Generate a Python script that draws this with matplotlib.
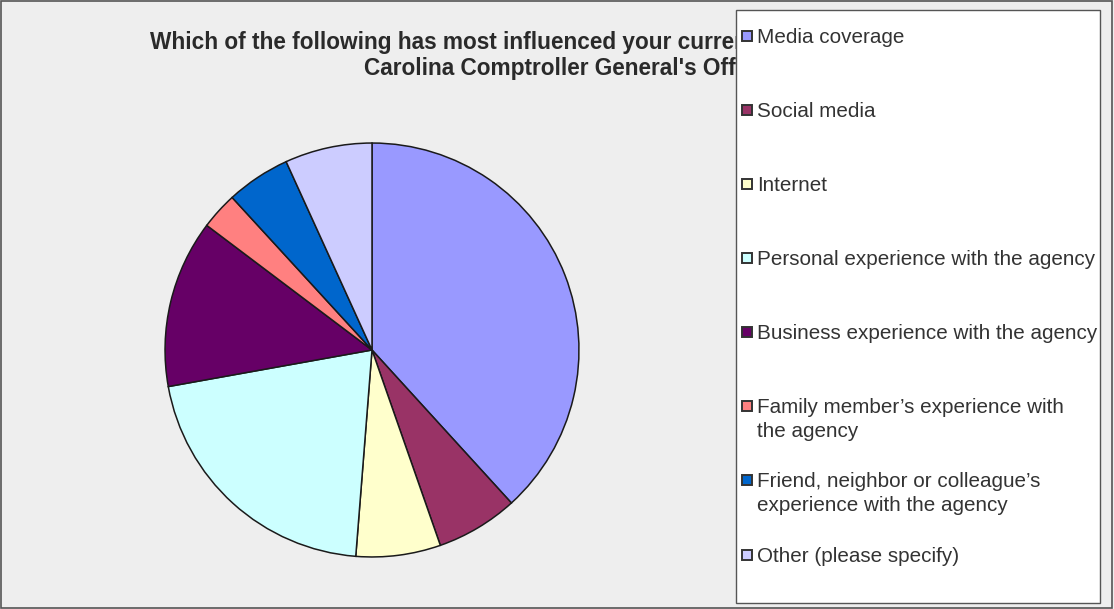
import matplotlib
matplotlib.use("Agg")
import matplotlib.pyplot as plt
from matplotlib.patches import Rectangle

categories = [
    "Media coverage",
    "Social media",
    "Internet",
    "Personal experience with the agency",
    "Business experience with the agency",
    "Family member\u2019s experience with\nthe agency",
    "Friend, neighbor or colleague\u2019s\nexperience with the agency",
    "Other (please specify)",
]
values = [38.2, 6.4, 6.6, 20.9, 13.1, 2.9, 5.0, 6.8]
colors = ["#9999FF", "#993366", "#FFFFCC", "#CCFFFF", "#660066", "#FF8080", "#0066CC", "#CCCCFF"]
title_lines = [
    "Which of the following has most influenced your current opinion of the South",
    "Carolina Comptroller General's Office?",
]

W, H = 1114, 609
fig = plt.figure(figsize=(W / 100, H / 100), dpi=100)
fig.patch.set_facecolor("#EEEEEE")

def fx(px):
    return px / W

def fy(py):
    return 1 - py / H

# figure border
fig.patches.append(Rectangle((0.0005, 0.001), 0.998, 0.997, transform=fig.transFigure,
                             facecolor="none", edgecolor="#555555", lw=1.2, zorder=0))

# title (drawn beneath the legend box)
fig.text(fx(566), fy(43), title_lines[0], ha="center", va="center", fontsize=16.3,
         family="Liberation Sans", weight="bold", color="#2a2a2a", zorder=1)
fig.text(fx(572), fy(68), title_lines[1], ha="center", va="center", fontsize=16.3,
         family="Liberation Sans", weight="bold", color="#2a2a2a", zorder=1)

# pie
cx, cy, r = 372, 350, 208
ax = fig.add_axes([fx(cx - r), fy(cy + r), 2 * r / W, 2 * r / H])
ax.pie(values, colors=colors, startangle=90, counterclock=False,
       wedgeprops=dict(edgecolor="#1a1a1a", linewidth=1.1))
ax.set_xlim(-1.005, 1.005)
ax.set_ylim(-1.005, 1.005)
ax.set_axis_off()

# legend box
lx0, ly0, lx1, ly1 = 736, 10, 1100, 603
fig.patches.append(Rectangle((fx(lx0), fy(ly1)), fx(lx1) - fx(lx0), fy(ly0) - fy(ly1),
                             transform=fig.transFigure, facecolor="white",
                             edgecolor="#555555", lw=1.0, zorder=5))
row_y = [36, 110, 184, 258, 332, 406, 480, 555]
sq = 10
for lab, col, yy in zip(categories, colors, row_y):
    fig.patches.append(Rectangle((fx(741.5), fy(yy + sq / 2)), sq / W, sq / H,
                                 transform=fig.transFigure, facecolor=col,
                                 edgecolor="#333333", lw=1.4, zorder=6))
    fig.text(fx(757), fy(yy - 8), lab, ha="left", va="top", fontsize=14.9,
             family="Liberation Sans", color="#333333", linespacing=1.32, zorder=7)

fig.savefig("out.png", dpi=100, facecolor=fig.get_facecolor())
